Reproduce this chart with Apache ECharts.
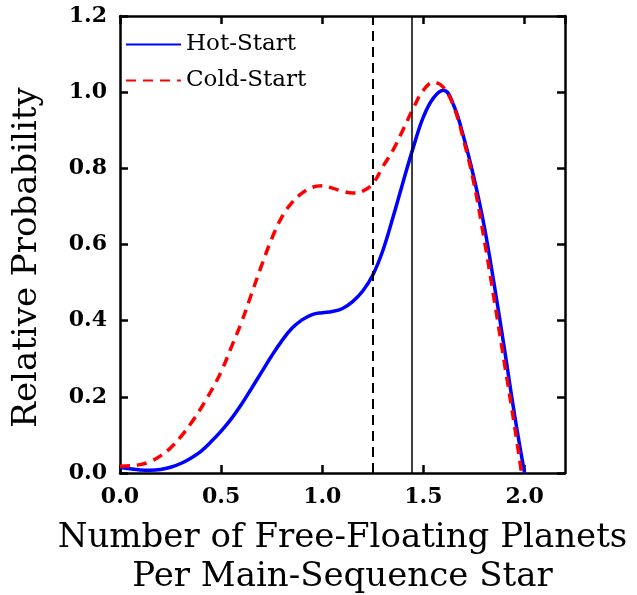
<!DOCTYPE html>
<html>
<head>
<meta charset="utf-8">
<script src="https://cdn.jsdelivr.net/npm/echarts@6/dist/echarts.min.js"></script>
<style>
  html, body { margin: 0; padding: 0; background: #fff; }
  #chart { width: 637px; height: 595px; }
</style>
</head>
<body>
<div id="chart"></div>
<script>
const hotX = [0.00, 0.05, 0.10, 0.15, 0.20, 0.25, 0.30, 0.35, 0.40, 0.45, 0.50, 0.55, 0.60, 0.65, 0.70, 0.75, 0.80, 0.85, 0.90, 0.95, 1.00, 1.05, 1.10, 1.15, 1.20, 1.25, 1.30, 1.35, 1.40, 1.45, 1.50, 1.55, 1.60, 1.65, 1.70, 1.75, 1.80, 1.85, 1.90, 1.95, 2.00];
const hotY = [0.015, 0.011, 0.008, 0.007, 0.009, 0.015, 0.025, 0.039, 0.057, 0.082, 0.110, 0.142, 0.180, 0.222, 0.265, 0.308, 0.347, 0.380, 0.402, 0.416, 0.421, 0.424, 0.432, 0.450, 0.478, 0.520, 0.585, 0.672, 0.765, 0.855, 0.935, 0.985, 1.005, 0.965, 0.880, 0.775, 0.650, 0.495, 0.328, 0.155, 0.000];

const coldX = [0.00, 0.05, 0.10, 0.15, 0.20, 0.25, 0.30, 0.35, 0.40, 0.45, 0.50, 0.55, 0.60, 0.65, 0.70, 0.75, 0.80, 0.85, 0.90, 0.95, 1.00, 1.05, 1.10, 1.15, 1.20, 1.25, 1.30, 1.35, 1.40, 1.45, 1.50, 1.55, 1.60, 1.65, 1.70, 1.75, 1.80, 1.85, 1.90, 1.95, 1.985];
const coldY = [0.018, 0.019, 0.022, 0.030, 0.045, 0.066, 0.095, 0.130, 0.170, 0.215, 0.266, 0.330, 0.395, 0.470, 0.545, 0.615, 0.672, 0.710, 0.735, 0.750, 0.754, 0.748, 0.740, 0.735, 0.740, 0.760, 0.805, 0.848, 0.902, 0.958, 1.005, 1.026, 1.012, 0.962, 0.872, 0.760, 0.615, 0.455, 0.290, 0.125, 0.000];

const dashedLineX = 1.25;
const solidLineX = 1.44;

const serif = '"DejaVu Serif", "Liberation Serif", serif';

const chartDom = document.getElementById('chart');
const myChart = echarts.init(chartDom);

const pairs = (xs, ys) => xs.map((x, i) => [x, ys[i]]);

const axisCommon = {
    type: 'value',
    axisLine: { show: true, onZero: false, lineStyle: { color: '#000', width: 2.5 } },
    axisTick: { show: true, inside: true, length: 8, lineStyle: { color: '#000', width: 2.5 } },
    splitLine: { show: false }
};

const option = {
    animation: false,
    grid: { left: 120, right: 72, top: 16, bottom: 122, outerBoundsMode: 'none', containLabel: false },
    legend: {
        orient: 'vertical',
        left: 120,
        top: 28,
        itemWidth: 55,
        itemHeight: 20,
        itemGap: 13,
        itemStyle: { opacity: 0 },
        textStyle: { fontFamily: serif, fontSize: 23, color: '#000' },
        data: ['Hot-Start', 'Cold-Start']
    },
    xAxis: [
        Object.assign({}, axisCommon, {
            position: 'bottom',
            min: 0, max: 2.2, interval: 0.5,
            axisLabel: {
                showMaxLabel: false,
                fontFamily: serif, fontWeight: 'bold', fontSize: 22, color: '#000', margin: 13,
                formatter: v => v.toFixed(1)
            },
            name: 'Number of Free-Floating Planets\nPer Main-Sequence Star',
            nameLocation: 'middle',
            nameGap: 46,
            nameTextStyle: { fontFamily: serif, fontSize: 34, color: '#000', lineHeight: 39 }
        }),
        Object.assign({}, axisCommon, {
            position: 'top',
            min: 0, max: 2.2, interval: 0.5,
            axisLabel: { show: false }
        })
    ],
    yAxis: [
        Object.assign({}, axisCommon, {
            position: 'left',
            min: 0, max: 1.2, interval: 0.2,
            axisLabel: {
                fontFamily: serif, fontWeight: 'bold', fontSize: 22, color: '#000', margin: 13,
                formatter: v => v.toFixed(1)
            },
            name: 'Relative Probability',
            nameLocation: 'middle',
            nameGap: 76,
            nameTextStyle: { fontFamily: serif, fontSize: 34, color: '#000', padding: [0, 26, 0, 0] }
        }),
        Object.assign({}, axisCommon, {
            position: 'right',
            min: 0, max: 1.2, interval: 0.2,
            axisLabel: { show: false }
        })
    ],
    series: [
        {
            name: 'Hot-Start',
            type: 'line',
            data: pairs(hotX, hotY),
            smooth: 0.4,
            showSymbol: false,
            symbol: 'none',
            z: 3,
            lineStyle: { color: '#0000ff', width: 3.5 },
            itemStyle: { color: '#0000ff' },
            markLine: {
                silent: true,
                symbol: 'none',
                label: { show: false },
                data: [
                    { xAxis: dashedLineX, lineStyle: { color: '#000', width: 2, type: [10, 6] } },
                    { xAxis: solidLineX, lineStyle: { color: '#000', width: 1.5, type: 'solid' } }
                ]
            }
        },
        {
            name: 'Cold-Start',
            type: 'line',
            data: pairs(coldX, coldY),
            smooth: 0.4,
            showSymbol: false,
            symbol: 'none',
            z: 4,
            lineStyle: { color: '#ff0000', width: 3.5, type: [10, 7] },
            itemStyle: { color: '#ff0000' }
        }
    ]
};

myChart.setOption(option);

window.addEventListener('resize', () => {
    myChart.resize();
});
</script>
</body>
</html>
